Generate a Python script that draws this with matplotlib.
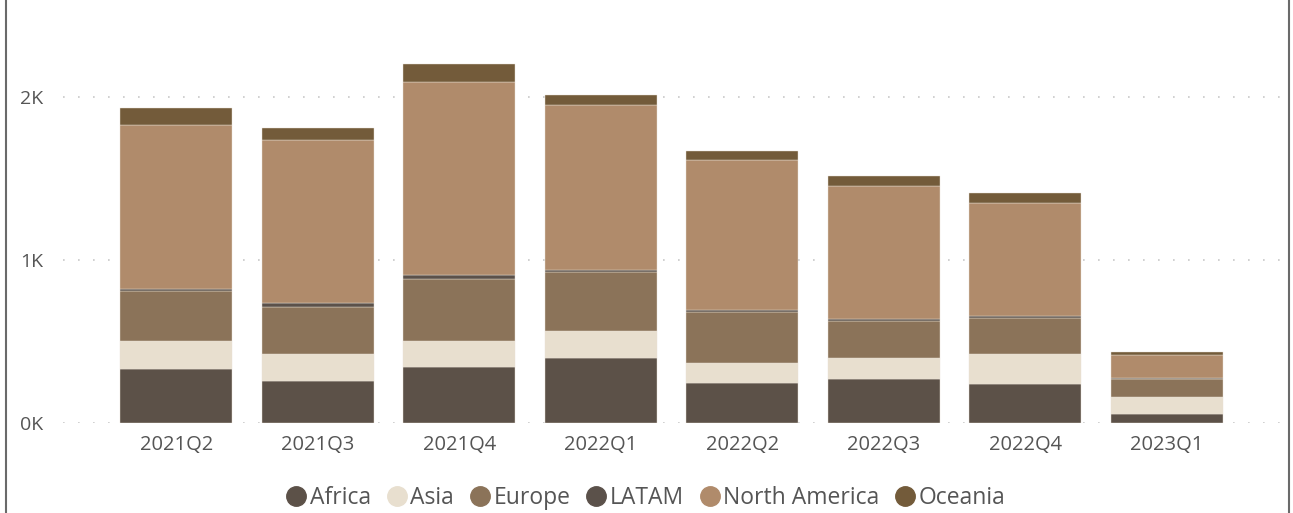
import numpy as np
from matplotlib import pyplot as plt
from matplotlib.lines import Line2D

plt.rcParams['font.family'] = ['Open Sans', 'DejaVu Sans']

quarters = ["2021Q2", "2021Q3", "2021Q4", "2022Q1", "2022Q2", "2022Q3", "2022Q4", "2023Q1"]
regions = ["Africa", "Asia", "Europe", "LATAM", "North America", "Oceania"]

africa = [333, 260, 348, 399, 249, 274, 240, 58]
asia = [170, 164, 155, 167, 121, 128, 183, 105]
europe = [308, 291, 383, 364, 315, 226, 224, 108]
latam = [12, 20, 21, 10, 10, 10, 10, 6]
north_america = [1008, 1000, 1187, 1008, 920, 816, 694, 144]
oceania = [104, 73, 106, 66, 57, 59, 63, 14]

series = [africa, asia, europe, latam, north_america, oceania]
colors = ["#5c5148", "#e8dfcf", "#8b7359", "#5b514a", "#b08b6b", "#735b3a"]

text_col = "#555555"

fig = plt.figure(figsize=(12.93, 5.13), dpi=100)
ax = fig.add_axes([0.0487, 0.1745, 0.9413, 0.767])

x = np.arange(len(quarters))
bottom = np.zeros(len(quarters))
for name, vals, col in zip(regions, series, colors):
    vals = np.array(vals, dtype=float)
    ax.bar(x, vals, width=0.79, bottom=bottom, color=col,
           edgecolor="#e9e2d8", linewidth=0.3, zorder=2, label=name)
    bottom += vals

ax.set_xlim(-0.8, 7.8)
ax.set_ylim(0, 2410)
ax.set_yticks([0, 1000, 2000])
ax.set_yticklabels(["0K", "1K", "2K"])
ax.set_xticks(x)
ax.set_xticklabels(quarters)
ax.grid(axis="y", color="#c8c8c8", linestyle=(0, (1, 8)), linewidth=1.2, zorder=0)
for s in ax.spines.values():
    s.set_visible(False)
ax.tick_params(axis="y", length=0, labelsize=14, colors=text_col, pad=14)
ax.tick_params(axis="x", length=0, labelsize=14.5, colors=text_col, pad=8)

handles = [Line2D([], [], linestyle="none", marker="o", markersize=14,
                  markerfacecolor=c, markeredgecolor=c) for c in colors]
fig.legend(handles, regions, loc="center", bbox_to_anchor=(0.499, 0.03),
           ncol=6, frameon=False, fontsize=16.5, handletextpad=0.1,
           columnspacing=0.62, handlelength=1.0, labelcolor=text_col)

# frame edges on the sides
fig.add_artist(Line2D([6 / 1293, 6 / 1293], [0, 1], color="#6a6a6a", linewidth=1.5))
fig.add_artist(Line2D([1289 / 1293, 1289 / 1293], [0, 1], color="#6a6a6a", linewidth=1.5))

fig.savefig("out.png", dpi=100)
